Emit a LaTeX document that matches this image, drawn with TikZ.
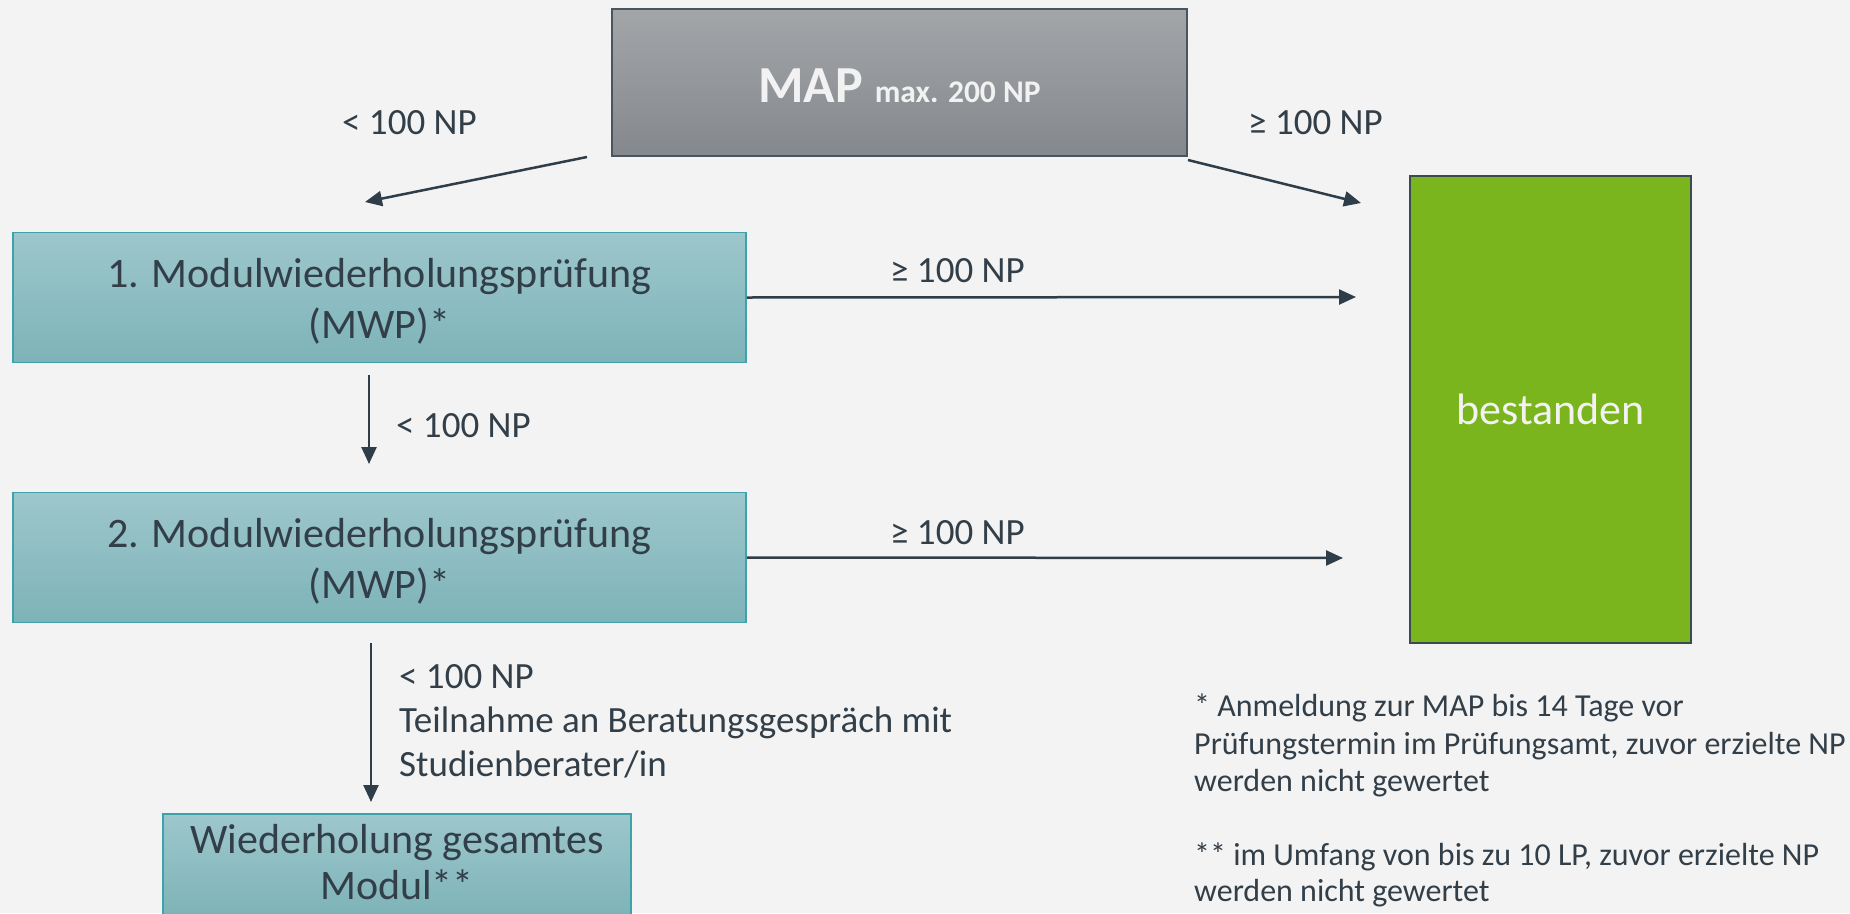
\documentclass[tikz,border=0pt]{standalone}
\usepackage{fontspec}
\setmainfont{Carlito}
\usetikzlibrary{arrows.meta}
\definecolor{bg}{HTML}{F3F3F3}
\definecolor{maptop}{HTML}{A3A6A9}
\definecolor{mapbot}{HTML}{84888C}
\definecolor{mapborder}{HTML}{4A5560}
\definecolor{tealtop}{HTML}{9DC7CC}
\definecolor{tealbot}{HTML}{7DB3B8}
\definecolor{tealborder}{HTML}{3FA2AA}
\definecolor{passgreen}{HTML}{7AB51E}
\definecolor{passborder}{HTML}{3B4A50}
\definecolor{txt}{HTML}{323E48}
\definecolor{arrowc}{HTML}{2F3D48}
\definecolor{light}{HTML}{F2F2F2}
\tikzset{
  mapbox/.style={draw=mapborder, line width=1.5pt, top color=maptop, bottom color=mapbot, inner sep=0pt, minimum width=575pt, minimum height=147pt, text=light, text height=39pt, text depth=0pt},
  tealbox/.style={draw=tealborder, line width=1.5pt, top color=tealtop, bottom color=tealbot, inner sep=0pt},
  boxtext/.style={text=txt, inner sep=0pt, anchor=base, font=\fontsize{42}{50}\selectfont},
  passbox/.style={draw=passborder, line width=1.2pt, fill=passgreen, inner sep=0pt, text=light, font=\fontsize{44}{50}\selectfont},
  lbl/.style={text=txt, inner sep=0pt, anchor=base west, font=\fontsize{37}{44}\selectfont},
  note/.style={text=txt, inner sep=0pt, anchor=base west, font=\fontsize{32}{36}\selectfont},
  flow/.style={draw=arrowc, line width=2.5pt, -{Triangle[length=17pt,width=15pt]}}
}
\begin{document}
\begin{tikzpicture}[x=1pt,y=-1pt]
\useasboundingbox (0,0) rectangle (1850,913);
\clip (0,0) rectangle (1850,913);
\fill[bg] (0,0) rectangle (1850,913);

% nodes
\node[mapbox] (map) at (899.5,82.5) {{\fontsize{52}{52}\selectfont\bfseries MAP }{\fontsize{31.5}{31.5}\selectfont\bfseries max. 200 NP}};
\node[tealbox, minimum width=733pt, minimum height=130pt] (m1) at (379.5,297.5) {};
\node[boxtext] (m1a) at (379.5,287) {1. Modulwiederholungsprüfung};
\node[boxtext] (m1b) at (379.5,338) {(MWP)*};
\node[tealbox, minimum width=733pt, minimum height=130pt] (m2) at (379.5,557.5) {};
\node[boxtext] (m2a) at (379.5,547) {2. Modulwiederholungsprüfung};
\node[boxtext] (m2b) at (379.5,598) {(MWP)*};
\node[tealbox, minimum width=468pt, minimum height=102pt] (m3) at (397,865) {};
\node[boxtext] (m3a) at (397,853) {Wiederholung gesamtes};
\node[boxtext] (m3b) at (397,899) {Modul**};
\node[passbox, minimum width=281pt, minimum height=467pt] (pass) at (1550.5,409.5) {bestanden};

% labels
\node[lbl] (l1) at (342,134) {< 100 NP};
\node[lbl] (l2) at (1248,134) {≥ 100 NP};
\node[lbl] (l3) at (890,282) {≥ 100 NP};
\node[lbl] (l4) at (890,544) {≥ 100 NP};
\node[lbl] (l5) at (396,437) {< 100 NP};
\node[lbl] (l6) at (399,688) {< 100 NP};
\node[lbl] (l7) at (399,732) {Teilnahme an Beratungsgespräch mit};
\node[lbl] (l8) at (399,776) {Studienberater/in};

% footnotes
\node[note] (f1) at (1194,716) {* Anmeldung zur MAP bis 14 Tage vor};
\node[note] (f2) at (1194,754) {Prüfungstermin im Prüfungsamt, zuvor erzielte NP};
\node[note] (f3) at (1194,791) {werden nicht gewertet};
\node[note] (f4) at (1194,865) {** im Umfang von bis zu 10 LP, zuvor erzielte NP};
\node[note] (f5) at (1194,901) {werden nicht gewertet};

% connector end points
\coordinate (a1s) at (587,157);
\coordinate (a1e) at (365,202);
\coordinate (a2s) at (1188,160);
\coordinate (a2e) at (1361,203);
\coordinate (a3e) at (1356,297);
\coordinate (a4e) at (1343,558);
\coordinate (a5s) at (369,375);
\coordinate (a5e) at (369,464);
\coordinate (a6s) at (371,643);
\coordinate (a6e) at (371,802);

\draw[flow] (a1s) -- (a1e);
\draw[flow] (a2s) -- (a2e);
\draw[flow] (m1.east) -- (a3e);
\draw[flow] (m2.east) -- (a4e);
\draw[flow] (a5s) -- (a5e);
\draw[flow] (a6s) -- (a6e);
\end{tikzpicture}
\end{document}
